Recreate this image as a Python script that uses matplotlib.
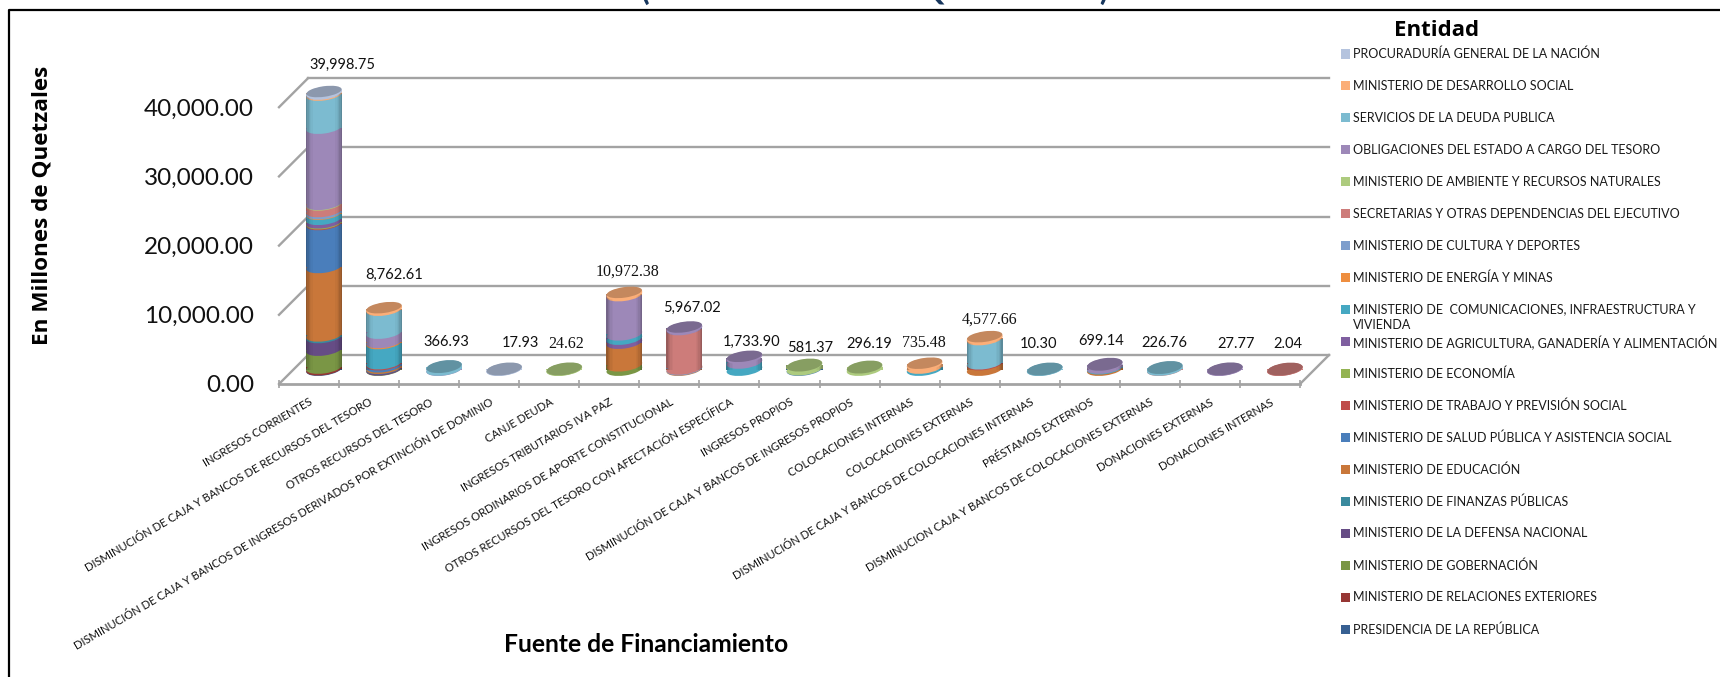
import matplotlib
matplotlib.use('Agg')
import matplotlib.pyplot as plt
import numpy as np
from matplotlib.lines import Line2D
from matplotlib.patches import Ellipse, Rectangle
from matplotlib.colors import to_rgb
from matplotlib.transforms import Affine2D, IdentityTransform

plt.rcParams['font.family'] = ['Lato', 'DejaVu Sans']

categorias = ['INGRESOS CORRIENTES',
              'DISMINUCIÓN DE CAJA Y BANCOS DE RECURSOS DEL TESORO',
              'OTROS RECURSOS DEL TESORO',
              'DISMINUCIÓN DE CAJA Y BANCOS DE INGRESOS DERIVADOS POR EXTINCIÓN DE DOMINIO',
              'CANJE DEUDA',
              'INGRESOS TRIBUTARIOS IVA PAZ',
              'INGRESOS ORDINARIOS DE APORTE CONSTITUCIONAL',
              'OTROS RECURSOS DEL TESORO CON AFECTACIÓN ESPECÍFICA',
              'INGRESOS PROPIOS',
              'DISMINUCIÓN DE CAJA Y BANCOS DE INGRESOS PROPIOS',
              'COLOCACIONES INTERNAS',
              'COLOCACIONES EXTERNAS',
              'DISMINUCIÓN DE CAJA Y BANCOS DE COLOCACIONES INTERNAS',
              'PRÉSTAMOS EXTERNOS',
              'DISMINUCION CAJA Y BANCOS DE COLOCACIONES EXTERNAS',
              'DONACIONES EXTERNAS',
              'DONACIONES INTERNAS']

# valores por entidad, de abajo hacia arriba en la pila
presidencia =  [60, 0, 0, 0, 0, 0, 0, 0, 0, 0, 0, 0, 0, 0, 0, 0, 0]
relaciones =   [240, 0, 0, 0, 0, 0, 0, 0, 0, 0, 0, 0, 0, 0, 0, 0, 0]
gobernacion =  [2590, 40, 0, 0, 0, 630, 0, 0, 0, 0, 0, 0, 0, 0, 0, 0, 0]
defensa =      [1830, 200, 0, 0, 0, 0, 0, 0, 0, 0, 0, 0, 0, 0, 0, 0, 0]
finanzas =     [230, 40, 0, 0, 0, 0, 0, 0, 0, 0, 0, 0, 0, 0, 0, 0, 0]
educacion =    [9890, 210, 0, 0, 0, 3270, 67.02, 0, 0, 0, 0, 800, 0, 200, 0, 0, 0]
salud =        [6210, 300, 0, 0, 0, 0, 0, 0, 60, 0, 0, 0, 0, 0, 0, 0, 0]
trabajo =      [120, 150, 0, 0, 0, 0, 0, 0, 0, 0, 0, 120, 0, 0, 0, 0, 0]
economia =     [130, 0, 0, 0, 0, 0, 0, 0, 0, 0, 0, 0, 0, 0, 0, 0, 0]
agricultura =  [500, 0, 0, 0, 0, 580, 0, 0, 0, 0, 0, 0, 0, 0, 0, 0, 0]
comunicac =    [740, 2910, 0, 0, 0, 620, 0, 1030, 0, 0, 300, 0, 0, 100, 0, 0, 0]
energia =      [90, 150, 0, 0, 0, 0, 0, 0, 0, 0, 0, 0, 0, 0, 0, 0, 0]
cultura =      [300, 0, 0, 0, 0, 0, 100, 0, 0, 0, 0, 0, 0, 0, 0, 0, 0]
secretarias =  [950, 0, 0, 0, 0, 0, 5700, 0, 0, 0, 0, 0, 0, 0, 20, 0, 2.04]
ambiente =     [90, 0, 0, 0, 24.62, 0, 0, 0, 521.37, 296.19, 0, 0, 0, 0, 0, 0, 0]
obligaciones = [11000, 1350, 20, 0, 0, 5672.38, 100, 703.90, 0, 0, 0, 0, 0, 399.14, 0, 27.77, 0]
deuda =        [4780, 3320, 346.93, 0, 0, 0, 0, 0, 0, 0, 0, 3500, 10.30, 0, 206.76, 0, 0]
desarrollo =   [150, 92.61, 0, 0, 0, 200, 0, 0, 0, 0, 435.48, 157.66, 0, 0, 0, 0, 0]
procuraduria = [98.75, 0, 0, 17.93, 0, 0, 0, 0, 0, 0, 0, 0, 0, 0, 0, 0, 0]

series = [presidencia, relaciones, gobernacion, defensa, finanzas, educacion, salud,
          trabajo, economia, agricultura, comunicac, energia, cultura, secretarias,
          ambiente, obligaciones, deuda, desarrollo, procuraduria]

entidades = ['PRESIDENCIA DE LA REPÚBLICA',
             'MINISTERIO DE RELACIONES EXTERIORES',
             'MINISTERIO DE GOBERNACIÓN',
             'MINISTERIO DE LA DEFENSA NACIONAL',
             'MINISTERIO DE FINANZAS PÚBLICAS',
             'MINISTERIO DE EDUCACIÓN',
             'MINISTERIO DE SALUD PÚBLICA Y ASISTENCIA SOCIAL',
             'MINISTERIO DE TRABAJO Y PREVISIÓN SOCIAL',
             'MINISTERIO DE ECONOMÍA',
             'MINISTERIO DE AGRICULTURA, GANADERÍA Y ALIMENTACIÓN',
             'MINISTERIO DE  COMUNICACIONES, INFRAESTRUCTURA Y\nVIVIENDA',
             'MINISTERIO DE ENERGÍA Y MINAS',
             'MINISTERIO DE CULTURA Y DEPORTES',
             'SECRETARIAS Y OTRAS DEPENDENCIAS DEL EJECUTIVO',
             'MINISTERIO DE AMBIENTE Y RECURSOS NATURALES',
             'OBLIGACIONES DEL ESTADO A CARGO DEL TESORO',
             'SERVICIOS DE LA DEUDA PUBLICA',
             'MINISTERIO DE DESARROLLO SOCIAL',
             'PROCURADURÍA GENERAL DE LA NACIÓN']

colores = ['#376092', '#963634', '#7A9645', '#664C85', '#3A8A9E', '#C9773A', '#4A7EBB',
           '#BF4D4B', '#93B352', '#7F5FA0', '#45A8C2', '#EE8E3F', '#7E9ECC', '#CD7C7A',
           '#ADCB7E', '#9D88B8', '#7CBBD0', '#FBAE78', '#B4C3DE']

yticks = [0, 10000, 20000, 30000, 40000]

# desplazamiento manual de cada etiqueta (pixeles) respecto a la tapa
label_dx = [18, 10, 2, 16.5, 2, 3, 8, 7, 6, 5, -1, 5, -6, -4, -1, 11, 3]
label_dy = [27.7, 34, 25, 26, 25, 22, 20, 15.5, 17.5, 23.5, 21, 18, 25, 24, 25, 25, 25.5]
label_serif = [4, 5, 10, 11]

W, H = 1720, 677
GRIS = '#a3a3a3'
fig = plt.figure(figsize=(W/100, H/100), dpi=100)
ax = fig.add_axes([279/W, (H-384)/H, 1021/W, 276.8/H])
ax.set_xlim(0, 17)
ax.set_ylim(0, 40000)
ax.patch.set_visible(False)

back = ax.transData + Affine2D().translate(29, 29)
mid = ax.transData + Affine2D().translate(15, 14.5)
depth_x, depth_y = 29/60, 29/(276.8/40000)

# paredes
for v in yticks:
    ax.plot([0, 17], [v, v], color=GRIS, lw=1.7, transform=back, clip_on=False, zorder=1)
    ax.plot([0, depth_x], [v, v+depth_y], color=GRIS, lw=1.7, clip_on=False, zorder=1)
ax.plot([17, 17+depth_x], [0, depth_y], color=GRIS, lw=1.7, clip_on=False, zorder=1)

for s in ['top', 'left', 'right']:
    ax.spines[s].set_visible(False)
ax.spines['bottom'].set_color(GRIS)
ax.spines['bottom'].set_linewidth(2.0)
ax.set_yticks(yticks)
ax.set_yticklabels(['{:,.2f}'.format(v) for v in yticks], fontsize=17.5, color='#111111')
ax.tick_params(axis='y', length=0, pad=18)
ax.set_xticks(np.arange(18))
ax.set_xticklabels([])
ax.tick_params(axis='x', which='major', direction='inout', length=6, width=1.2, color=GRIS)
ax.set_xticks(np.arange(17)+0.5, minor=True)
ax.set_xticklabels(categorias, minor=True, rotation=30.5, ha='right', va='top',
                   rotation_mode='anchor', fontsize=8.1, color='#111111')
ax.tick_params(axis='x', which='minor', length=0, pad=9)


def tapa(c):
    return tuple(0.78*np.array(to_rgb(c)))


ANCHO, ELL_W, ELL_H, ELL_ANG = 0.6, 36, 12, 8
datos = np.array(series)
z = 3
for i in range(len(categorias)):
    base = 0
    ultimo = None
    for j in range(len(series)):
        v = datos[j, i]
        if v <= 0:
            continue
        cx, cy = mid.transform((i+0.5, base))
        ax.add_patch(Ellipse((cx, cy), ELL_W, ELL_H, angle=ELL_ANG, color=colores[j],
                             transform=IdentityTransform(), clip_on=False, zorder=z, lw=0))
        ax.bar(i+0.5, v, ANCHO, bottom=base, color=colores[j], transform=mid,
               clip_on=False, zorder=z, lw=0)
        base += v
        ultimo = j
        z += 1
    # sombra del cilindro
    if base > 500:
        for k, a in enumerate([0.26, 0.18, 0.11, 0.06, 0.03]):
            w = 0.022
            ax.bar(i+0.5-ANCHO/2+w*(k+0.5), base, w, color='k', alpha=a, transform=mid,
                   clip_on=False, zorder=z, lw=0)
            ax.bar(i+0.5+ANCHO/2-w*(k+0.5), base, w, color='k', alpha=a, transform=mid,
                   clip_on=False, zorder=z, lw=0)
        z += 1
    cx, cy = mid.transform((i+0.5, base))
    ax.add_patch(Ellipse((cx, cy), ELL_W, ELL_H, angle=ELL_ANG, color=colores[ultimo],
                         transform=IdentityTransform(), clip_on=False, zorder=z, lw=0))
    # los discos planos casi no muestran borde
    alto = 1.2 if base > 700 else 0.4
    ax.add_patch(Ellipse((cx, cy+alto), ELL_W-0.5, ELL_H-2*alto+0.9, angle=ELL_ANG, color=tapa(colores[ultimo]),
                         transform=IdentityTransform(), clip_on=False, zorder=z+1, lw=0))
    z += 2
    # etiqueta del total
    serif = i in label_serif
    ax.annotate('{:,.2f}'.format(base), (i+0.5, base), xycoords=mid,
                xytext=(label_dx[i], label_dy[i]), textcoords='offset pixels',
                ha='center', va='center', fontsize=11.5 if serif else 10.5, color='#111111',
                zorder=z, annotation_clip=False,
                family='Liberation Serif' if serif else 'Lato')

# titulos (el de arriba queda cortado por el borde como en el original)
fig.text(875/W, 1+0.5/H, '(EN MILLONES DE QUETZALES)', ha='center', va='baseline',
         fontsize=23, fontweight='bold', color='#17365D')
fig.text(42/W, 1-205/H, 'En Millones de Quetzales', rotation=90, ha='center', va='center',
         fontsize=16.2, fontweight='bold', color='k', family='Open Sans')
fig.text(646/W, 1-645/H, 'Fuente de Financiamiento', ha='center', va='center',
         fontsize=17.7, fontweight='bold', color='k')
fig.text(1437/W, 1-30/H, 'Entidad', ha='center', va='center',
         fontsize=16, fontweight='bold', color='k', family='Open Sans')

# leyenda
for n, j in enumerate(range(len(entidades)-1, -1, -1)):
    y = 54 + 31.95*n
    fig.add_artist(Rectangle((1341/W, 1-(y+4.5)/H), 9/W, 9/H, color=colores[j], lw=0,
                             transform=fig.transFigure))
    fig.text(1353/W, 1-(y-6)/H, entidades[j], ha='left', va='top', fontsize=9.0,
             color='#1a1a1a', linespacing=1.3)

# marco
fig.add_artist(Line2D([9/W, 9/W, 1], [0, 1-9.5/H, 1-9.5/H], color='k', lw=1.6,
                      transform=fig.transFigure))

fig.savefig('out.png', dpi=100)
